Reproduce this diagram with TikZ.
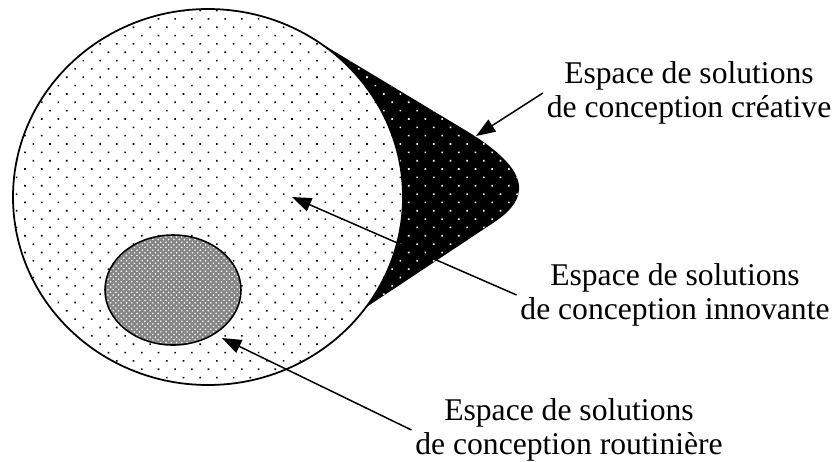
\documentclass[tikz,border=0pt]{standalone}
\usepackage{fontspec}
\setmainfont{Liberation Serif}
\usepackage{tikz}
\usetikzlibrary{arrows.meta,positioning,patterns,patterns.meta}
\definecolor{ink}{HTML}{000000}
\definecolor{mesh}{HTML}{858585}

\begin{document}
\begin{tikzpicture}[x=0.02cm, y=-0.02cm,
    label/.style={align=center, inner sep=2pt, text=ink,
      font=\fontsize{18}{19}\selectfont},
    pointer/.style={ink, line width=0.85pt,
      -{Triangle[length=11pt, width=8pt]}},
    sparsedots/.style={pattern={Dots[distance=0.236cm, angle=45, radius=0.65pt]}}]
  \useasboundingbox (0,0) rectangle (836,461);
  % creative region, its inner side is hidden by the big ellipse
  \fill[ink] (317,41) -- (465,130) .. controls (535,172) and (530,200) .. (490,225)
    -- (365,308) -- (300,200) -- cycle;
  \fill[sparsedots, pattern color=white] (317,41) -- (465,130)
    .. controls (535,172) and (530,200) .. (490,225) -- (365,308) -- (300,200) -- cycle;
  % innovative space
  \fill[white] (208,197) ellipse [x radius=195, y radius=188];
  \fill[sparsedots, pattern color=ink] (208,197) ellipse [x radius=195, y radius=188];
  \draw[ink, line width=1pt] (208,197) ellipse [x radius=195, y radius=188];
  % routine space
  \fill[mesh] (173,290) ellipse [x radius=68, y radius=55];
  \fill[pattern=crosshatch dots, pattern color=white] (173,290) ellipse [x radius=68, y radius=55];
  \draw[ink, line width=0.9pt] (173,290) ellipse [x radius=68, y radius=55];
  % labels
  \node[label] (creative) at (689,93) {Espace de solutions\\de conception créative};
  \node[label] (innov) at (675,295) {Espace de solutions\\de conception innovante};
  \node[label] (routine) at (569,430) {Espace de solutions\\de conception routinière};
  \coordinate (creativetip) at (476,136);
  \coordinate (innovtip) at (292,197);
  \coordinate (routinetip) at (222,338);
  \draw[pointer] (creative.west) -- (creativetip);
  \draw[pointer] (innov.west) -- (innovtip);
  \draw[pointer] (routine.west) -- (routinetip);
\end{tikzpicture}
\end{document}
